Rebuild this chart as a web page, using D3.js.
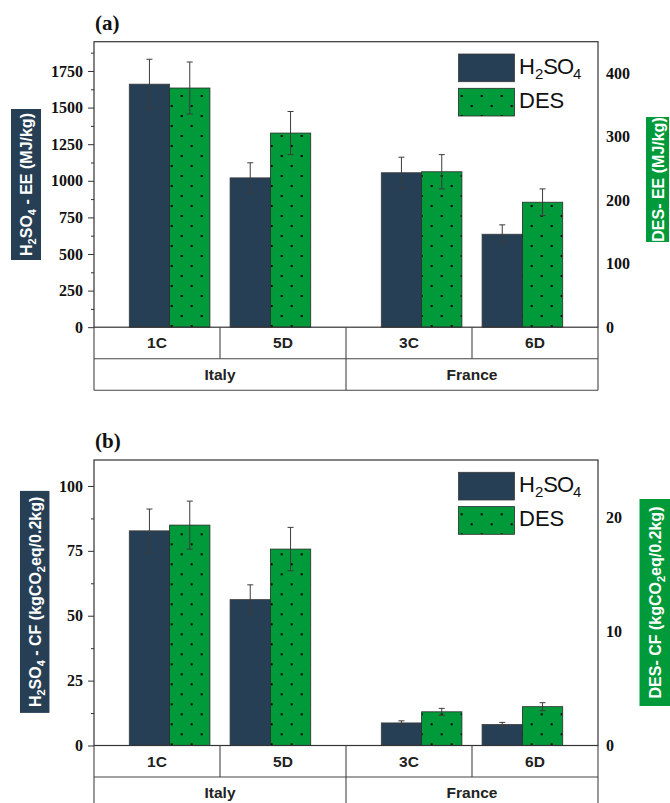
<!DOCTYPE html>
<html>
<head>
<meta charset="utf-8">
<script src="https://cdn.jsdelivr.net/npm/d3@7"></script>
<style>
  html, body { margin: 0; padding: 0; background: #fff; }
  svg { display: block; }
</style>
</head>
<body>
<svg id="chart" width="670" height="803"></svg>
<script>
// ---- data ----
const categories = ["1C", "5D", "3C", "6D"];
const countries  = ["Italy", "Italy", "France", "France"];
const xPos       = [1, 2, 3.5, 4.5];            // bar-group positions on the x axis

// (a) embodied energy, MJ/kg
const eeH2SO4    = [1660, 1020, 1055, 635];
const eeH2SO4Err = [170, 103, 106, 64];
const eeDES      = [377, 306, 245, 197];
const eeDESErr   = [41, 34, 27, 21];

// (b) carbon footprint, kgCO2eq/0.2kg
const cfH2SO4    = [82.7, 56.2, 8.7, 8.1];
const cfH2SO4Err = [8.4, 5.7, 0.8, 0.8];
const cfDES      = [19.3, 17.2, 2.95, 3.4];
const cfDESErr   = [2.1, 1.9, 0.3, 0.35];

// axis ticks
const eeLeftTicks  = [0, 250, 500, 750, 1000, 1250, 1500, 1750];
const eeLeftMinor  = [125, 375, 625, 875, 1125, 1375, 1625, 1875];
const eeRightTicks = [0, 100, 200, 300, 400];
const cfLeftTicks  = [0, 25, 50, 75, 100];
const cfLeftMinor  = [12.5, 37.5, 62.5, 87.5];
const cfRightTicks = [0, 10, 20];

// ---- styling ----
const DARK = "#273f55";
const GREEN = "#009a3a";
const SERIF = "'Liberation Serif', 'Times New Roman', serif";
const SANS = "'Liberation Sans', Arial, sans-serif";

const svg = d3.select("#chart");
svg.append("rect").attr("width", 670).attr("height", 803).attr("fill", "#fff");
const defs = svg.append("defs");

const plotLeft = 94, plotRight = 598, plotH = 285.5, rowH = 31.5;
const x = d3.scaleLinear().domain([0.25, 5.25]).range([plotLeft, plotRight]);
const band = d3.scaleBand().domain(categories).range([plotLeft, plotRight]).padding(0);

function drawPanel(cfg) {
  const top = cfg.top, base = top + plotH;
  const yL = d3.scaleLinear().domain([0, cfg.leftMax]).range([base, top]);
  const yR = d3.scaleLinear().domain([0, cfg.rightMax]).range([base, top]);
  const g = svg.append("g");

  // dotted fill for the DES bars
  const pat = defs.append("pattern").attr("id", cfg.id + "-dots")
    .attr("patternUnits", "userSpaceOnUse").attr("width", 20).attr("height", 20)
    .attr("x", 0).attr("y", top - 41.7);
  pat.append("rect").attr("width", 20).attr("height", 20).attr("fill", GREEN);
  pat.append("rect").attr("x", 0.7).attr("y", 15).attr("width", 2).attr("height", 2).attr("fill", "#000");
  pat.append("rect").attr("x", 10.7).attr("y", 5).attr("width", 2).attr("height", 2).attr("fill", "#000");

  // panel tag
  g.append("text").attr("x", 95).attr("y", top - 12).text(cfg.tag)
    .attr("font-family", SERIF).attr("font-weight", "bold").attr("font-size", 21).attr("fill", "#111");

  // bars
  const bw = 0.4;
  g.selectAll(".h2").data(cfg.h2).join("rect")
    .attr("x", (d, i) => x(xPos[i] - bw)).attr("width", (d, i) => x(xPos[i]) - x(xPos[i] - bw))
    .attr("y", d => yL(d)).attr("height", d => base - yL(d))
    .attr("fill", DARK).attr("stroke", "#3a3a3a").attr("stroke-width", 0.8);
  g.selectAll(".des").data(cfg.des).join("rect")
    .attr("x", (d, i) => x(xPos[i])).attr("width", (d, i) => x(xPos[i] + bw) - x(xPos[i]))
    .attr("y", d => yR(d)).attr("height", d => base - yR(d))
    .attr("fill", `url(#${cfg.id}-dots)`).attr("stroke", "#2a2a2a").attr("stroke-width", 0.8);

  // error bars
  function errBars(vals, errs, y, dx) {
    vals.forEach((v, i) => {
      const cx = x(xPos[i] + dx);
      const y1 = y(v + errs[i]), y2 = y(v - errs[i]);
      const eg = g.append("g").attr("stroke", "#3c3c3c").attr("stroke-width", 1);
      eg.append("line").attr("x1", cx).attr("x2", cx).attr("y1", y1).attr("y2", y2);
      eg.append("line").attr("x1", cx - 3).attr("x2", cx + 3).attr("y1", y1).attr("y2", y1);
      eg.append("line").attr("x1", cx - 3).attr("x2", cx + 3).attr("y1", y2).attr("y2", y2);
    });
  }
  errBars(cfg.h2, cfg.h2Err, yL, -bw / 2);
  errBars(cfg.des, cfg.desErr, yR, bw / 2);

  // left axis with minor ticks
  const la = g.append("g").attr("transform", `translate(${plotLeft},0)`)
    .call(d3.axisLeft(yL).tickValues(cfg.leftTicks).tickSize(6).tickPadding(5).tickFormat(d3.format("d")));
  la.select(".domain").remove();
  la.selectAll("text").attr("font-family", SERIF).attr("font-weight", "bold").attr("font-size", 16).attr("fill", "#111");
  la.selectAll("line").attr("stroke", "#333");
  const lm = g.append("g").attr("transform", `translate(${plotLeft},0)`)
    .call(d3.axisLeft(yL).tickValues(cfg.leftMinor).tickSize(3).tickFormat(""));
  lm.select(".domain").remove();
  lm.selectAll("line").attr("stroke", "#333");

  // right axis
  const ra = g.append("g").attr("transform", `translate(${plotRight},0)`)
    .call(d3.axisRight(yR).tickValues(cfg.rightTicks).tickSize(0).tickPadding(8).tickFormat(d3.format("d")));
  ra.select(".domain").remove();
  ra.selectAll("text").attr("font-family", SERIF).attr("font-weight", "bold").attr("font-size", 16).attr("fill", "#111");

  // plot frame
  g.append("rect").attr("x", plotLeft).attr("y", top).attr("width", plotRight - plotLeft).attr("height", plotH)
    .attr("fill", "none").attr("stroke", "#333").attr("stroke-width", 1.2);

  // category table under the axis
  const tb = g.append("g").attr("stroke", "#444").attr("stroke-width", 1.1);
  tb.append("line").attr("x1", plotLeft).attr("x2", plotRight).attr("y1", base + rowH).attr("y2", base + rowH);
  tb.append("line").attr("x1", plotLeft).attr("x2", plotRight).attr("y1", base + 2 * rowH).attr("y2", base + 2 * rowH);
  tb.append("line").attr("x1", plotLeft).attr("x2", plotLeft).attr("y1", base).attr("y2", base + 2 * rowH);
  tb.append("line").attr("x1", plotRight).attr("x2", plotRight).attr("y1", base).attr("y2", base + 2 * rowH);
  categories.slice(1).forEach(c => {
    tb.append("line").attr("x1", band(c)).attr("x2", band(c)).attr("y1", base).attr("y2", base + rowH);
  });
  const groups = d3.groups(categories.map((c, i) => ({ c, country: countries[i] })), d => d.country)
    .map(([name, items]) => ({ name, x0: band(items[0].c), x1: band(items[items.length - 1].c) + band.bandwidth() }));
  groups.slice(1).forEach(gr => {
    tb.append("line").attr("x1", gr.x0).attr("x2", gr.x0).attr("y1", base + rowH).attr("y2", base + 2 * rowH);
  });
  g.selectAll(".cat").data(categories).join("text")
    .attr("x", c => band(c) + band.bandwidth() / 2).attr("y", base + rowH / 2 + 5.5)
    .attr("text-anchor", "middle").text(c => c)
    .attr("font-family", SANS).attr("font-weight", "bold").attr("font-size", 15.5).attr("fill", "#222");
  g.selectAll(".country").data(groups).join("text")
    .attr("x", d => (d.x0 + d.x1) / 2).attr("y", base + rowH * 1.5 + 5.5)
    .attr("text-anchor", "middle").text(d => d.name)
    .attr("font-family", SANS).attr("font-weight", "bold").attr("font-size", 15.5).attr("fill", "#222");

  // legend
  const lg = g.append("g");
  const items = [{ fill: DARK, stroke: "#3a3a3a", dy: 12.3, label: "H2SO4" },
                 { fill: `url(#${cfg.id}-dots)`, stroke: "#2a2a2a", dy: 46.6, label: "DES" }];
  items.forEach(it => {
    lg.append("rect").attr("x", 458.5).attr("y", top + it.dy).attr("width", 56).attr("height", 27.7)
      .attr("fill", it.fill).attr("stroke", it.stroke).attr("stroke-width", 0.8);
    const t = lg.append("text").attr("x", 519).attr("y", top + it.dy + 19.5)
      .attr("font-family", SANS).attr("font-size", 22).attr("fill", "#111");
    if (it.label === "H2SO4") {
      t.append("tspan").text("H");
      t.append("tspan").text("2").attr("font-size", 15).attr("dy", 5);
      t.append("tspan").text("SO").attr("dy", -5).attr("letter-spacing", -1);
      t.append("tspan").text("4").attr("font-size", 15).attr("dy", 5);
    } else {
      t.text(it.label);
    }
  });

  // boxed axis titles
  function boxLabel(box, parts, fill) {
    const bg = g.append("g").attr("transform", `translate(${box.cx},${box.cy}) rotate(-90)`);
    bg.append("rect").attr("x", -box.len / 2).attr("y", -box.w / 2).attr("width", box.len).attr("height", box.w).attr("fill", fill);
    const t = bg.append("text").attr("text-anchor", "middle").attr("y", 6)
      .attr("font-family", SANS).attr("font-weight", "bold").attr("font-size", 16).attr("fill", "#fff");
    parts.forEach(p => {
      const s = t.append("tspan").text(p.t);
      if (p.sub) s.attr("font-size", 11).attr("dy", 4);
      else if (p.after) s.attr("dy", -4);
    });
  }
  boxLabel(cfg.leftBox, cfg.leftTitle, DARK);
  boxLabel(cfg.rightBox, cfg.rightTitle, GREEN);
}

drawPanel({
  id: "ee", tag: "(a)", top: 41.7, leftMax: 1950, rightMax: 450,
  h2: eeH2SO4, h2Err: eeH2SO4Err, des: eeDES, desErr: eeDESErr,
  leftTicks: eeLeftTicks, leftMinor: eeLeftMinor, rightTicks: eeRightTicks,
  leftBox: { cx: 26, cy: 184.5, w: 30, len: 151 },
  rightBox: { cx: 657.5, cy: 179.5, w: 23, len: 125 },
  leftTitle: [{ t: "H" }, { t: "2", sub: true }, { t: "SO", after: true }, { t: "4", sub: true }, { t: " - EE (MJ/kg)", after: true }],
  rightTitle: [{ t: "DES- EE (MJ/kg)" }]
});

drawPanel({
  id: "cf", tag: "(b)", top: 460, leftMax: 110, rightMax: 25,
  h2: cfH2SO4, h2Err: cfH2SO4Err, des: cfDES, desErr: cfDESErr,
  leftTicks: cfLeftTicks, leftMinor: cfLeftMinor, rightTicks: cfRightTicks,
  leftBox: { cx: 34.7, cy: 601.9, w: 29.5, len: 222 },
  rightBox: { cx: 655, cy: 602.5, w: 31, len: 207 },
  leftTitle: [{ t: "H" }, { t: "2", sub: true }, { t: "SO", after: true }, { t: "4", sub: true }, { t: " - CF (kgCO", after: true }, { t: "2", sub: true }, { t: "eq/0.2kg)", after: true }],
  rightTitle: [{ t: "DES- CF (kgCO" }, { t: "2", sub: true }, { t: "eq/0.2kg)", after: true }]
});
</script>
</body>
</html>
